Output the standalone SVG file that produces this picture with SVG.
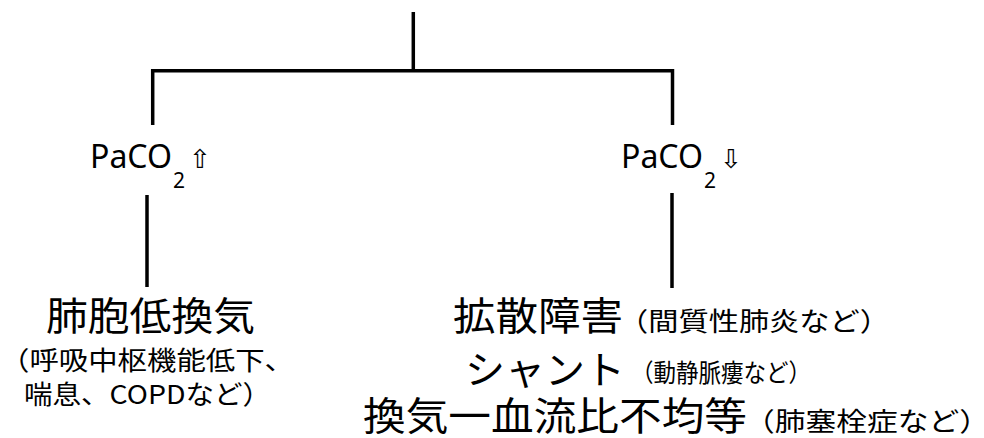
<svg xmlns="http://www.w3.org/2000/svg" width="984" height="438" viewBox="0 0 984 438">
<style>
.ln{stroke:#000;stroke-width:3.5;fill:none;stroke-linecap:butt}
.t{font-family:"Noto Sans CJK JP","Noto Sans",sans-serif;fill:#000}
.big{font-size:39px}
.sm{font-size:26px}
.lat{font-family:"Noto Sans","Liberation Sans",sans-serif;fill:#000}
.arw{font-family:"DejaVu Sans",sans-serif;fill:#000;font-size:26px}
</style>
<rect width="984" height="438" fill="#fff"/>
<g id="connectors">
<line class="ln" x1="413.3" y1="12" x2="413.3" y2="71"/>
<line class="ln" x1="151" y1="70.7" x2="674" y2="70.7"/>
<line class="ln" x1="152.7" y1="69" x2="152.7" y2="125"/>
<line class="ln" x1="672.5" y1="69" x2="672.5" y2="125"/>
<line class="ln" x1="147" y1="195" x2="147" y2="287"/>
<line class="ln" x1="672" y1="193" x2="672" y2="288"/>
</g>
<g id="node-paco2-up">
<text class="lat" x="90" y="168" font-size="33" textLength="82" lengthAdjust="spacingAndGlyphs">PaCO</text>
<text class="lat" x="173" y="188" font-size="21">2</text>
<text class="arw" x="189" y="168">⇧</text>
</g>
<g id="node-paco2-down">
<text class="lat" x="621" y="168" font-size="33" textLength="82" lengthAdjust="spacingAndGlyphs">PaCO</text>
<text class="lat" x="704" y="188" font-size="21">2</text>
<text class="arw" x="720" y="168">⇩</text>
</g>
<g id="node-hypoventilation">
<text class="t big" x="46" y="330" textLength="209" lengthAdjust="spacingAndGlyphs">肺胞低換気</text>
<text class="t sm" x="0" y="370" textLength="294" lengthAdjust="spacingAndGlyphs">（呼吸中枢機能低下、</text>
<text class="t sm" x="24" y="404" textLength="247" lengthAdjust="spacingAndGlyphs">喘息、COPDなど）</text>
</g>
<g id="node-causes">
<text class="t big" x="453" y="330" textLength="170" lengthAdjust="spacingAndGlyphs">拡散障害</text>
<text class="t sm" x="618" y="331" textLength="272" lengthAdjust="spacingAndGlyphs">（間質性肺炎など）</text>
<text class="t big" x="465" y="384" textLength="160" lengthAdjust="spacingAndGlyphs">シャント</text>
<text class="t" x="631" y="382" font-size="25" textLength="180" lengthAdjust="spacingAndGlyphs">（動静脈瘻など）</text>
<text class="t big" x="363" y="430" textLength="384" lengthAdjust="spacingAndGlyphs">換気一血流比不均等</text>
<text class="t sm" x="744" y="431" textLength="246" lengthAdjust="spacingAndGlyphs">（肺塞栓症など）</text>
</g>
</svg>
